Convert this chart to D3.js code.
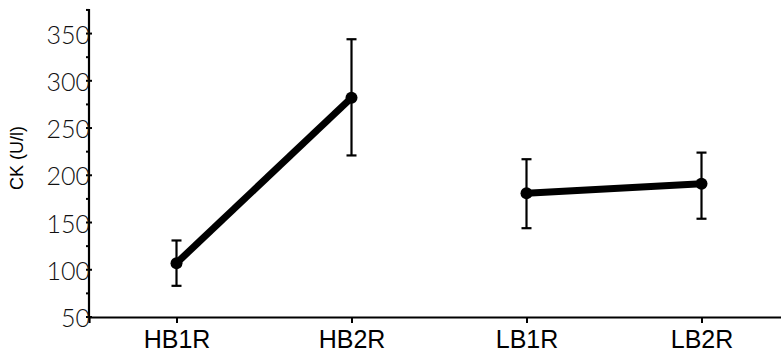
<!DOCTYPE html>
<html>
<head>
<meta charset="utf-8">
<script src="https://cdn.jsdelivr.net/npm/d3@7"></script>
<style>
  body { margin: 0; background: #fff; }
  svg { display: block; }
</style>
</head>
<body>
<svg id="chart" width="781" height="354"></svg>
<script>
// data
const categories = ['HB1R', 'HB2R', 'LB1R', 'LB2R'];
const means = [107, 282, 181, 191];
const upper = [131, 344, 217, 224];
const lower = [83, 221, 144, 154];
// line segments: HB pair and LB pair
const groups = [[0, 1], [2, 3]];
const yTicks = [50, 100, 150, 200, 250, 300, 350];
const yMinorTicks = [75, 125, 175, 225, 275, 325, 375];

const WIDTH = 781;
const HEIGHT = 354;
const MARGIN = { left: 89, top: 9, bottom: 37 };

const svg = d3.select('#chart');

const x = d3.scalePoint()
    .domain(categories)
    .range([MARGIN.left, MARGIN.left + 700])
    .padding(0.5);

const y = d3.scaleLinear()
    .domain([50, 376])
    .range([HEIGHT - MARGIN.bottom, MARGIN.top]);

// x axis
const xAxis = svg.append('g')
    .attr('transform', `translate(0,${y(50)})`)
    .call(d3.axisBottom(x).tickSizeOuter(0).tickSize(6).tickPadding(7));
xAxis.select('.domain').attr('stroke-width', 2.2).attr('stroke', '#000');
xAxis.selectAll('.tick line').attr('stroke-width', 2).attr('stroke', '#000');
xAxis.selectAll('.tick text')
    .attr('fill', '#000')
    .attr('font-family', '"Liberation Sans Narrow", "Arial Narrow", sans-serif')
    .attr('font-size', 25)
    .attr('dy', '0.72em');

// y axis line
svg.append('line')
    .attr('x1', MARGIN.left).attr('x2', MARGIN.left)
    .attr('y1', y(376)).attr('y2', y(50) + 1)
    .attr('stroke', '#000').attr('stroke-width', 2.2);

// minor ticks
svg.append('g').selectAll('line')
    .data(yMinorTicks)
    .enter()
    .append('line')
    .attr('x1', MARGIN.left - 3).attr('x2', MARGIN.left)
    .attr('y1', d => y(d)).attr('y2', d => y(d))
    .attr('stroke', '#000').attr('stroke-width', 2);

// major ticks
svg.append('g').selectAll('line')
    .data(yTicks)
    .enter()
    .append('line')
    .attr('x1', MARGIN.left - 3).attr('x2', MARGIN.left + 3)
    .attr('y1', d => y(d)).attr('y2', d => y(d))
    .attr('stroke', '#000').attr('stroke-width', 2);

svg.append('g').selectAll('text')
    .data(yTicks)
    .enter()
    .append('text')
    .attr('x', MARGIN.left + 1)
    .attr('y', d => y(d))
    .attr('text-anchor', 'end')
    .attr('dominant-baseline', 'central')
    .attr('font-family', 'Lato, "DejaVu Sans", sans-serif')
    .attr('font-weight', 300)
    .attr('font-size', 25)
    .attr('fill', '#111')
    .text(d => d);

// y label
svg.append('text')
    .attr('transform', 'translate(23,158) rotate(-90)')
    .attr('text-anchor', 'middle')
    .attr('font-family', '"Liberation Sans Narrow", "Liberation Sans", sans-serif')
    .attr('font-size', 18)
    .attr('fill', '#000')
    .text('CK (U/l)');

// error bars
const err = svg.append('g');
categories.forEach((c, i) => {
    err.append('line')
        .attr('x1', x(c)).attr('x2', x(c))
        .attr('y1', y(upper[i])).attr('y2', y(lower[i]))
        .attr('stroke', '#000').attr('stroke-width', 2.2);
    [upper[i], lower[i]].forEach(v => {
        err.append('line')
            .attr('x1', x(c) - 5).attr('x2', x(c) + 5)
            .attr('y1', y(v)).attr('y2', y(v))
            .attr('stroke', '#000').attr('stroke-width', 2.2);
    });
});

// connecting lines
const line = d3.line()
    .x(i => x(categories[i]))
    .y(i => y(means[i]));

svg.append('g').selectAll('path')
    .data(groups)
    .enter()
    .append('path')
    .attr('d', line)
    .attr('fill', 'none')
    .attr('stroke', '#000')
    .attr('stroke-width', 7);

// points
svg.append('g').selectAll('circle')
    .data(categories)
    .enter()
    .append('circle')
    .attr('cx', d => x(d))
    .attr('cy', (d, i) => y(means[i]))
    .attr('r', 6)
    .attr('fill', '#000');
</script>
</body>
</html>
